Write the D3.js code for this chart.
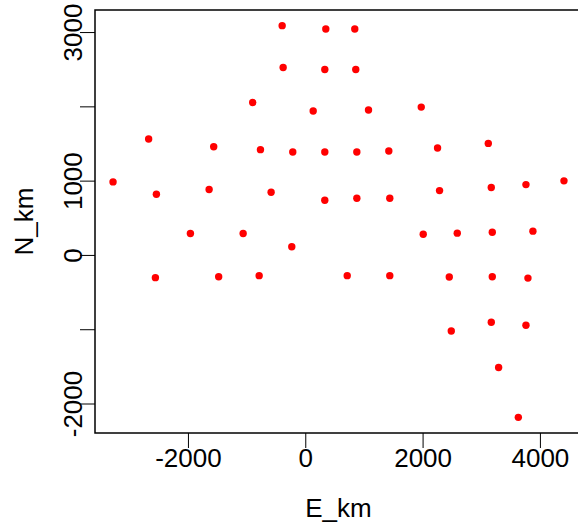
<!DOCTYPE html>
<html>
<head>
<meta charset="utf-8">
<script src="https://cdn.jsdelivr.net/npm/d3@7"></script>
<style>
body { margin: 0; background: #ffffff; }
</style>
</head>
<body>
<div id="chart"></div>
<script>
// station positions (km east / km north)
var eastKm  = [-3277, -2670, -2538, -2555, -1958, -1639, -1561, -1476, -1059, -896,
               -764, -786, -582, -394, -377, -230, -213, 135, 350, 333,
               333, 333, 715, 844, 861, 879, 879, 1078, 1424, 1441,
               1441, 1977, 2011, 2255, 2289, 2455, 2489, 2591, 3120, 3171,
               3171, 3188, 3188, 3296, 3632, 3762, 3762, 3796, 3881, 4410];
var northKm = [983, 1561, 817, -306, 289, 880, 1457, -293, 289, 2052,
               1417, -279, 843, 3086, 2522, 110, 1386, 1937, 3042, 2495,
               1386, 736, -279, 3042, 2495, 1386, 763, 1950, 1399, 763,
               -279, 1990, 279, 1440, 866, -298, -1023, 293, 1501, 907,
               -907, 306, -293, -1515, -2186, 947, -947, -312, 320, 997];

var xTicks = [-2000, 0, 2000, 4000];
var yTicks = [-2000, -1000, 0, 1000, 2000, 3000];
var yTickLabels = ["-2000", "", "0", "1000", "", "3000"];

function setChart(){
	var w = 578;
	var h = 525;
	var left = 95, right = 582, top = 10, bottom = 433;
	var font = "'Liberation Sans', Arial, sans-serif";

	var svg = d3.select("#chart")
		.append("svg")
			.attr("width", w)
			.attr("height", h);

	// R style: 4% padding around the data range
	var xr = d3.extent(eastKm), xp = (xr[1] - xr[0]) * 0.04;
	var yr = d3.extent(northKm), yp = (yr[1] - yr[0]) * 0.04;

	var x = d3.scaleLinear().domain([xr[0] - xp, xr[1] + xp]).range([left, right]);
	var y = d3.scaleLinear().domain([yr[0] - yp, yr[1] + yp]).range([bottom, top]);

	var xAxis = svg.append("g")
		.attr("transform", "translate(0," + bottom + ")")
		.call(d3.axisBottom(x).tickValues(xTicks).tickSize(15).tickPadding(1)
			.tickFormat(function(d){ return d; }));
	xAxis.select(".domain").remove();
	xAxis.selectAll("line").attr("stroke", "#000");
	xAxis.selectAll("text")
		.attr("fill", "#000")
		.attr("font-family", font)
		.attr("font-size", 26);

	var yAxis = svg.append("g")
		.attr("transform", "translate(" + left + ",0)")
		.call(d3.axisLeft(y).tickValues(yTicks).tickSize(15)
			.tickFormat(function(d, i){ return yTickLabels[i]; }));
	yAxis.select(".domain").remove();
	yAxis.selectAll("line").attr("stroke", "#000");
	yAxis.selectAll("text")
		.attr("transform", "rotate(-90)")
		.attr("x", 0)
		.attr("y", -13.5)
		.attr("dy", 0)
		.attr("text-anchor", "middle")
		.attr("fill", "#000")
		.attr("font-family", font)
		.attr("font-size", 26);

	// box
	svg.append("rect")
		.attr("x", left)
		.attr("y", top)
		.attr("width", right - left)
		.attr("height", bottom - top)
		.attr("fill", "none")
		.attr("stroke", "#000")
		.attr("stroke-width", 1.5);

	svg.selectAll("circle")
		.data(eastKm)
		.enter()
		.append("circle")
			.attr("cx", function(d){ return x(d); })
			.attr("cy", function(d, i){ return y(northKm[i]); })
			.attr("r", 3.7)
			.attr("fill", "#ff0000");

	svg.append("text")
		.text("E_km")
		.attr("x", (left + right) / 2)
		.attr("y", 517)
		.attr("text-anchor", "middle")
		.attr("font-family", font)
		.attr("font-size", 26);

	svg.append("text")
		.text("N_km")
		.attr("transform", "translate(33," + ((top + bottom) / 2) + ") rotate(-90)")
		.attr("text-anchor", "middle")
		.attr("font-family", font)
		.attr("font-size", 26);
}
setChart();
</script>
</body>
</html>
